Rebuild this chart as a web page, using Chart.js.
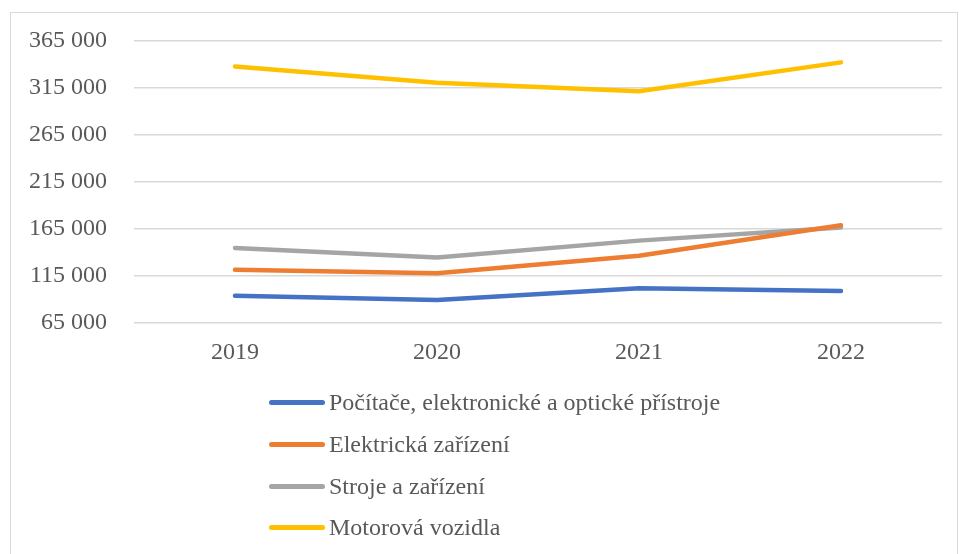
<!DOCTYPE html>
<html lang="cs">
<head>
  <meta charset="UTF-8" />
  <title>Line chart</title>
  <script src="https://cdn.jsdelivr.net/npm/chart.js"></script>
  <style>
    body {
      margin: 0;
      background: white;
      font-family: "Liberation Serif", "Times New Roman", Tinos, "DejaVu Serif", serif;
      color: #595959;
    }
    .frame {
      position: absolute;
      left: 10px;
      top: 12px;
      width: 946px;
      height: 560px;
      border: 1px solid #d9d9d9;
    }
    .chart-box {
      position: absolute;
      left: 2px;
      top: -1px;
      width: 953px;
      height: 387px;
    }
    .legend {
      position: absolute;
      left: 269px;
      top: 382px;
    }
    .legend div {
      height: 41.7px;
      display: flex;
      align-items: center;
      font-size: 24px;
    }
    .legend span.line {
      display: inline-block;
      width: 56px;
      height: 5px;
      border-radius: 3px;
      margin-right: 4px;
    }
  </style>
</head>
<body>
  <div class="frame"></div>
  <div class="chart-box"><canvas id="lineChart"></canvas></div>
  <div class="legend" id="legend"></div>

  <script>
    const years = ["2019", "2020", "2021", "2022"];
    const seriesNames = [
      "Počítače, elektronické a optické přístroje",
      "Elektrická zařízení",
      "Stroje a zařízení",
      "Motorová vozidla"
    ];
    const pocitace = [94200, 89600, 102100, 99200];
    const elektricka = [121600, 118100, 136600, 169000];
    const stroje = [144800, 134800, 152600, 166500];
    const motorova = [337400, 320000, 311100, 341700];
    const colors = ["#4472C4", "#ED7D31", "#A5A5A5", "#FFC000"];
    const yTicks = [65000, 115000, 165000, 215000, 265000, 315000, 365000];

    const allValues = [pocitace, elektricka, stroje, motorova];
    const fmt = v => String(v).replace(/\B(?=(\d{3})+(?!\d))/g, " ");
    const serif = "'Liberation Serif', 'Times New Roman', Tinos, 'DejaVu Serif', serif";

    new Chart(document.getElementById("lineChart"), {
      type: "line",
      data: {
        labels: years,
        datasets: allValues.map((vals, i) => ({
          label: seriesNames[i],
          data: vals,
          borderColor: colors[i],
          backgroundColor: colors[i],
          borderWidth: 4.5,
          borderCapStyle: "round",
          borderJoinStyle: "round",
          pointRadius: 0,
          tension: 0
        }))
      },
      options: {
        responsive: true,
        maintainAspectRatio: false,
        animation: false,
        layout: { padding: { left: 0, right: 13, top: 7, bottom: 12 } },
        plugins: {
          legend: { display: false },
          tooltip: { enabled: false }
        },
        scales: {
          x: {
            offset: true,
            grid: { display: false },
            border: { display: false },
            ticks: {
              color: "#595959",
              padding: 7,
              font: { family: serif, size: 24 }
            }
          },
          y: {
            min: yTicks[0],
            max: yTicks[yTicks.length - 1],
            border: { display: false },
            grid: { color: "#d9d9d9", lineWidth: 1.5, drawTicks: false },
            ticks: {
              stepSize: yTicks[1] - yTicks[0],
              color: "#595959",
              padding: 27,
              font: { family: serif, size: 24 },
              callback: v => fmt(v)
            }
          }
        }
      }
    });

    // legend as html, vertical list like the original
    const legend = document.getElementById("legend");
    seriesNames.forEach((name, i) => {
      const row = document.createElement("div");
      const line = document.createElement("span");
      line.className = "line";
      line.style.background = colors[i];
      row.appendChild(line);
      row.appendChild(document.createTextNode(name));
      legend.appendChild(row);
    });
  </script>
</body>
</html>
